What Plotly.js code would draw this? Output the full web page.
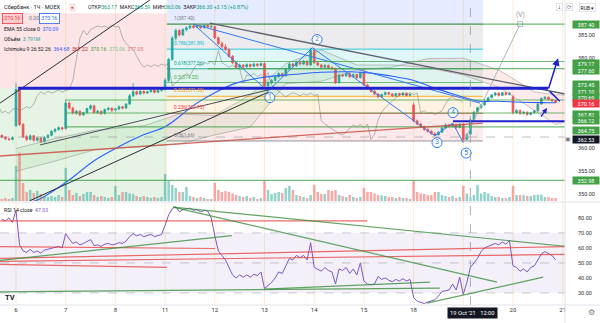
<!DOCTYPE html>
<html><head><meta charset="utf-8">
<script src="https://cdn.plot.ly/plotly-3.0.1.min.js"></script>
<style>html,body{margin:0;padding:0;background:#fff;}#chart{width:600px;height:323px;}</style>
</head><body><div id="chart"></div>
<script>
// ---------- DATA ----------
const dayIndex  = [0,14,28,42,56,70,84,98,112,126,140,154];
const dayLabels = ['6','7','8','11','12','13','14','15','18','19','20','21'];
const priceTicks = [350,355,360,380,385];
const rsiTicks = [30,40,50,60,70,80];

const openP = [362.9,362.5,362.1,362.0,
365.0,373.0,365.3,362.6,362.0,362.8,361.8,362.3,361.5,362.4,362.9,363.8,364.2,364.6,
364.4,370.0,368.9,367.8,368.2,367.4,367.9,368.8,369.4,367.9,368.2,367.7,368.6,368.9,
368.5,368.7,369.2,368.9,369.8,371.6,372.5,372.0,372.6,372.2,372.5,372.9,372.4,372.8,
373.0,375.0,379.6,384.3,386.0,385.0,386.2,386.6,387.0,386.7,387.0,386.6,387.2,386.8,
386.9,384.4,383.1,382.4,381.8,380.3,378.9,377.9,378.4,378.0,378.5,378.1,378.6,378.3,
378.7,373.8,374.5,375.0,375.8,376.5,376.0,377.5,378.6,378.2,379.0,378.6,379.2,378.4,
381.6,378.9,378.4,377.9,378.3,377.8,377.6,374.5,376.2,376.0,376.5,375.8,376.3,375.6,
376.7,374.0,373.2,372.6,372.0,371.4,371.9,372.3,372.0,371.6,372.1,371.8,372.2,371.7,
369.6,366.1,365.4,364.8,364.2,363.8,363.3,363.0,363.6,364.5,365.2,364.8,365.3,364.6,
365.4,362.0,363.17,366.3,368.0,369.0,369.6,370.4,371.2,371.8,372.2,371.7,372.3,371.9,
371.4,367.9,368.4,367.7,368.0,367.5,367.9,368.3,369.8,371.0,371.3,370.8,370.6];
const highP = [363.1,362.7,362.4,362.7,
374.4,373.4,365.6,363.0,363.1,363.0,362.6,362.5,362.7,363.2,364.0,364.5,364.9,364.8,
370.8,370.4,369.2,368.5,368.4,368.1,369.0,369.7,369.6,368.5,368.4,368.8,369.1,369.0,
368.9,369.5,369.4,370.0,372.0,374.4,372.8,372.9,372.8,372.7,373.2,373.0,373.0,373.3,
375.5,380.0,384.8,386.4,386.3,386.5,386.9,387.3,387.4,387.2,387.1,387.3,387.3,387.2,
387.0,384.7,383.6,383.0,382.1,380.6,379.3,378.7,378.6,378.8,378.7,378.9,378.8,378.9,
379.0,374.8,375.3,376.1,376.8,376.7,377.8,378.9,378.8,379.3,379.2,379.5,379.4,382.2,
381.9,379.0,378.6,378.6,378.5,378.1,377.8,376.5,376.5,376.8,376.7,376.6,376.5,376.9,
377.7,374.3,373.5,372.9,372.2,372.1,372.6,372.5,372.2,372.3,372.3,372.4,372.3,372.1,
370.2,366.4,365.7,365.1,364.5,364.1,363.6,363.9,364.7,365.5,365.4,365.6,365.5,365.6,
365.5,363.4,366.59,368.3,369.2,369.8,370.6,371.4,372.0,372.5,372.4,372.5,372.4,372.4,
371.8,368.7,368.6,368.3,368.2,368.1,368.5,370.0,371.3,371.6,371.5,371.0,370.8];
const lowP = [362.3,361.9,361.7,361.8,
364.8,364.9,362.3,361.6,361.8,361.5,361.5,361.2,361.4,362.2,362.7,363.5,363.9,364.0,
364.2,368.6,367.5,367.4,367.1,367.2,367.7,368.5,367.7,367.6,367.4,367.5,368.3,368.0,
368.1,368.4,368.6,368.7,369.6,371.3,371.7,371.8,371.9,372.0,372.3,372.1,372.2,372.5,
372.8,374.6,379.3,383.8,384.6,384.8,385.8,386.3,386.4,386.5,386.3,386.4,386.6,386.5,
384.1,382.8,382.1,381.5,380.0,378.6,377.5,377.6,377.7,377.8,377.8,377.9,378.0,378.1,
373.4,372.6,374.2,374.8,375.5,375.7,375.9,377.3,377.9,378.0,378.3,378.4,378.2,378.2,
378.6,378.1,377.6,377.7,377.5,377.3,374.2,374.3,375.7,375.8,375.5,375.6,375.3,375.4,
373.8,373.0,372.3,371.8,371.1,371.2,371.7,371.8,371.3,371.4,371.5,371.6,371.4,371.5,
365.8,365.1,364.5,363.9,363.5,363.0,362.8,362.9,363.4,364.3,364.5,364.6,364.4,364.5,
361.3,361.8,363.06,366.1,367.7,368.7,369.4,370.2,371.0,371.5,371.4,371.5,371.6,371.7,
367.5,367.6,367.4,367.5,367.2,367.3,367.7,368.1,369.6,370.8,370.6,370.3,370.0];
const closeP = [362.5,362.1,362.0,362.4,
373.0,365.3,362.6,362.0,362.8,361.8,362.3,361.5,362.4,362.9,363.8,364.2,364.6,364.3,
370.0,368.9,367.8,368.2,367.4,367.9,368.8,369.4,367.9,368.2,367.7,368.6,368.9,368.4,
368.7,369.2,368.9,369.8,371.6,372.5,372.0,372.6,372.2,372.5,372.9,372.4,372.8,373.0,
375.0,379.6,384.3,386.0,385.0,386.2,386.6,387.0,386.7,387.0,386.6,387.2,386.8,386.9,
384.4,383.1,382.4,381.8,380.3,378.9,377.9,378.4,378.0,378.5,378.1,378.6,378.3,378.7,
373.8,374.5,375.0,375.8,376.5,376.0,377.5,378.6,378.2,379.0,378.6,379.2,378.4,381.6,
378.9,378.4,377.9,378.3,377.8,377.6,374.5,376.2,376.0,376.5,375.8,376.3,375.6,376.7,
374.0,373.2,372.6,372.0,371.4,371.9,372.3,372.0,371.6,372.1,371.8,372.2,371.7,371.9,
366.1,365.4,364.8,364.2,363.8,363.3,363.0,363.6,364.5,365.2,364.8,365.3,364.6,365.4,
362.0,363.1,366.30,368.0,369.0,369.6,370.4,371.2,371.8,372.2,371.7,372.3,371.9,372.2,
367.9,368.4,367.7,368.0,367.5,367.9,368.3,369.8,371.0,371.3,370.8,370.6,370.16];
const volumeM = [2,3,2,3,
35,48,18,9,11,8,10,7,5,4,5,4,6,4,
33,11,6,8,5,7,9,9,6,4,5,4,3,4,
15,6,9,9,7.5,7,5,4,5,4,3,4,3,4,
27,20,16,13,9,9,14,5,4,3,4,3,2,2,
18,11,9,10,9,7.5,6,5,4,5,3,4,2,3,
20,11,7,8,9,8,13,15,11,6,5,4,3,6,
16,9,7,7,11,10,11,6,5,4,6,4,3,4,
13,9,9,7.5,5.7,5.7,5,4,4,3,4,3,3,2,
20,9,7.5,7,6,6,9,9,6,5,4,5,3,4,
15,7.5,3.791,6,16,7.5,9,7.5,5,4,4,3,3,4,
15,6,6,5.7,5,5,6,6.4,6.4,4,4,3,3];
const rsi = [79,78,80,77,
85,62,58,57,59,57,58,56.5,58.5,59,60,60.5,61,60,
69.5,66,63,64,62,63,64.5,65.5,61.5,62,61,62.5,63,62,
62.5,63.5,63,64.5,67.5,69.5,68,69,67.5,68.5,69,67.5,68.5,69,
75,82,86,87.5,84,85.5,86,86.5,85,85.5,84,85,84.5,80,
68,58,55,52,47,42,40,42,40.5,42,40.5,42.5,41.5,44,
33,35,37,40,44,43,48,53,52,55,53.5,55,52,63.5,
47,46,44.5,47,45,44,36,46,45,47,43,46,42,50,
38,36,35.5,36,41,39,40,38.5,37.5,39,38,39.5,38,39,
27,24.5,23.5,23,24,25,25.5,28,31,31.5,32,36,32,40.5,
29,37,47,50,53,57.5,60,61,62,63,62,64,62.5,65,
48,47,44.5,46,44,47,48,52,56,57.5,56,55,52];
// EMA 55 read at sample bars
const emaX = [3,7,14,22,28,35,42,46,50,56,62,70,78,86,94,100,106,112,118,124,130,136,142,148,152];
const emaY = [347.8,349.0,352.5,357.3,360.0,362.7,364.8,367.0,369.5,372.3,374.4,375.7,376.3,376.8,376.9,376.6,375.9,375.0,373.3,371.8,370.5,370.4,370.2,370.1,370.09];
// Ichimoku leading spans (read), bullish part / bearish part
const spanJ1 = [0,10,22,36,46,56,66,76,86,96,106,108];
const spanA1 = [360,362,364,365,367.6,367.3,371.8,378.7,381.7,378.4,378.4,378.3];
const spanB1 = [355,357,359.7,360.5,361,363,364.7,374.3,374.8,377.3,377.9,378.3];
const spanJ2 = [108,116,126,136,146,152,156,160];
const spanA2 = [378.3,377.8,376.2,373.5,368.4,365.3,366.2,367.0];
const spanB2 = [378.3,379.8,379.9,377.3,372.5,371.8,371.8,371.0];
const chikouLag = 26;
// Fibonacci retracement
const fibRange = [42.5,131.5];
const fibLevels = [361.66,367.75,371.50,374.53,377.56,381.89,387.40];
const fibRatios = ['0','0.236','0.382','0.5','0.618','0.786','1'];
// Elliott wave
const waveX = [50,71,83.5,118,123,126];
const waveY = [387.4,372.6,382.2,362.8,365.6,361.3];
const waveLblX = [71.5,84.8,118.6,123.1,126.8];
const waveLblY = [371.2,384.0,361.3,367.9,359.0];
const waveLbl = ['1','2','3','4','5'];
const vX = [126,142], vY = [361.3,387.4];
const channelX = [50,130.7], channelY = [387.4,370.0];
// drawn trend lines (bar index, price)
const blackA = {x:[-4.5,37.7], y:[370.0,392.7]};
const blackB = {x:[3.9,71.0], y:[348.5,372.4]};
const blackC = {x:[6.8,71.0], y:[360.8,372.9]};
const grayDown = {x:[54.6,154.65], y:[387.6,372.0]};
const redRise = {x:[-4.5,131.5], y:[358.35,365.6]};
const blueThick = {x:[0.6,149.9], y:373.3};
const blueLow = {x:[123.1,154.65], y:366.0};
const rayLevels = [387.40,379.17,377.60,370.69,367.82,364.75,352.98];
const rayStart  = [42.5,54,54,14,14,14,-4.5];
const shortTool = {x:[-4.5,42.5], entry:373.3, stop:389.8};
const rsiRedLines = [
  {x:[-4.5,98.9], y:[78.0,78.0]},
  {x:[-4.5,56.1], y:[60.9,59.6]},
  {x:[-4.5,154.65], y:[53.0,60.9]},
  {x:[-4.5,154.65], y:[51.0,55.7]},
  {x:[-4.5,42.5], y:[49.1,47.1]}];
const rsiGreenLines = [
  {x:[44.2,154.65], y:[87.2,61.1]},
  {x:[44.2,135.5], y:[87.2,37.2]},
  {x:[-4.5,60.8], y:[51.7,68.2]},
  {x:[-4.5,119.4], y:[30.7,33.3]},
  {x:[70.1,116.6], y:[32.6,37.2]},
  {x:[115.8,148.5], y:[23.2,40.5]}];
const axisLabelVals = ['387.40','379.17','377.60','373.45','371.10','370.69','370.16','367.82','366.12','364.75','362.53','352.98'];
const axisLabelKind = ['g','g','g','g','g','g','r','g','b','g','d','g'];
const crossBar = 128;
const crossLabel = "19 Oct '21   12:00";

// ---------- BUILD ----------
const W = 565, H = 305;
const XR = [-4.507, 154.65];
const idx = closeP.map((_, k) => k - 4);
const F = 'Roboto, Arial, sans-serif';
const up = '#26a69a', dn = '#ef5350';
const LF = 5.2; // legend font size

const traces = [];
traces.push({x: spanJ1, y: spanB1, type:'scatter', mode:'lines', line:{color:'rgba(120,130,120,0.55)', width:0.8}, xaxis:'x', yaxis:'y', hoverinfo:'skip'});
traces.push({x: spanJ1, y: spanA1, type:'scatter', mode:'lines', line:{color:'rgba(120,130,120,0.55)', width:0.8}, fill:'tonexty', fillcolor:'rgba(76,175,80,0.10)', xaxis:'x', yaxis:'y', hoverinfo:'skip'});
traces.push({x: spanJ2, y: spanB2, type:'scatter', mode:'lines', line:{color:'rgba(140,120,120,0.55)', width:0.8}, xaxis:'x', yaxis:'y', hoverinfo:'skip'});
traces.push({x: spanJ2, y: spanA2, type:'scatter', mode:'lines', line:{color:'rgba(140,120,120,0.55)', width:0.8}, fill:'tonexty', fillcolor:'rgba(242,54,69,0.10)', xaxis:'x', yaxis:'y', hoverinfo:'skip'});
traces.push({x: idx, y: volumeM, type:'bar', marker:{color: closeP.map((c,k)=> c>=openP[k] ? 'rgba(38,166,154,0.5)' : 'rgba(239,83,80,0.5)')}, width:0.7, xaxis:'x', yaxis:'y3', hoverinfo:'skip'});
traces.push({x: idx.map(v => v - chikouLag), y: closeP, type:'scatter', mode:'lines', line:{color:'rgba(110,110,110,0.6)', width:0.8}, xaxis:'x', yaxis:'y', hoverinfo:'skip'});
traces.push({x: emaX, y: emaY, type:'scatter', mode:'lines', line:{color:'#2962ff', width:1.1, shape:'spline'}, xaxis:'x', yaxis:'y', hoverinfo:'skip'});
traces.push({x: idx, open: openP, high: highP, low: lowP, close: closeP, type:'candlestick', xaxis:'x', yaxis:'y',
  increasing:{line:{color:up, width:0.8}, fillcolor:up}, decreasing:{line:{color:dn, width:0.8}, fillcolor:dn}, whiskerwidth:0, hoverinfo:'skip'});
traces.push({x: waveX, y: waveY, type:'scatter', mode:'lines', line:{color:'#3179f5', width:1}, xaxis:'x', yaxis:'y', hoverinfo:'skip'});
traces.push({x: channelX, y: channelY, type:'scatter', mode:'lines', line:{color:'#3179f5', width:1}, xaxis:'x', yaxis:'y', hoverinfo:'skip'});
traces.push({x: vX, y: vY, type:'scatter', mode:'lines+markers', line:{color:'#b2b5be', width:1}, marker:{symbol:'square', size:[0,5], color:'#fff', line:{color:'#9598a1', width:1}}, xaxis:'x', yaxis:'y', hoverinfo:'skip'});
traces.push({x: waveLblX, y: waveLblY, text: waveLbl, type:'scatter', mode:'markers+text', textposition:'middle center',
  marker:{symbol:'circle', size:10, color:'rgba(255,255,255,0.9)', line:{color:'#3179f5', width:1}},
  textfont:{family:F, size:6.5, color:'#3179f5'}, xaxis:'x', yaxis:'y', hoverinfo:'skip'});
traces.push({x: idx, y: rsi, type:'scatter', mode:'lines', line:{color:'#7e57c2', width:1}, xaxis:'x', yaxis:'y2', hoverinfo:'skip'});

const shapes = [];
const rect = (x0,x1,y0,y1,fill,yref) => ({type:'rect', xref:'x', yref:yref||'y', x0, x1, y0, y1, fillcolor:fill, line:{width:0}, layer:'below'});
const seg = (x0,y0,x1,y1,color,width,dash,yref,layer) => ({type:'line', xref:'x', yref:yref||'y', x0, y0, x1, y1, line:{color, width, dash:dash||'solid'}, layer:layer||'above'});
shapes.push(rect(shortTool.x[0], shortTool.x[1], shortTool.entry, shortTool.stop, 'rgba(242,54,69,0.13)'));
shapes.push(rect(shortTool.x[0], shortTool.x[1], 348.44, shortTool.entry, 'rgba(76,175,80,0.14)'));
const fibFill = ['rgba(242,54,69,0.11)','rgba(255,152,0,0.11)','rgba(76,175,80,0.12)','rgba(8,153,129,0.12)','rgba(0,188,212,0.12)','rgba(120,123,134,0.14)'];
const fibLine = ['#787b86','#f23645','#ff9800','#4caf50','#089981','#00bcd4','#787b86'];
for (let k = 0; k < fibLevels.length - 1; k++) shapes.push(rect(fibRange[0], fibRange[1], fibLevels[k], fibLevels[k+1], fibFill[k]));
shapes.push(rect(fibRange[0], fibRange[1], fibLevels[6], 392.71, 'rgba(41,98,255,0.12)'));
fibLevels.forEach((v,k) => shapes.push(seg(fibRange[0], v, fibRange[1], v, fibLine[k], 0.8, 'solid', 'y', 'below')));
dayIndex.forEach(d => shapes.push({type:'line', xref:'x', yref:'paper', x0:d, x1:d, y0:0, y1:1, line:{color:'rgba(255,167,38,0.22)', width:1}, layer:'below'}));
shapes.push(rect(XR[0], XR[1], 30, 70, 'rgba(126,87,194,0.09)', 'y2'));
[70,50,30].forEach(v => shapes.push(seg(XR[0], v, XR[1], v, 'rgba(120,123,134,0.55)', 0.7, 'dash', 'y2', 'below')));
rayLevels.forEach((v,k) => shapes.push(seg(rayStart[k], v, XR[1], v, 'rgba(67,160,71,0.75)', 1.2)));
shapes.push(seg(XR[0], 362.53, XR[1], 362.53, 'rgba(120,123,134,0.6)', 0.8, 'dash'));
shapes.push(seg(redRise.x[0], redRise.y[0], redRise.x[1], redRise.y[1], 'rgba(205,80,70,0.85)', 1.3));
shapes.push(seg(blackA.x[0], blackA.y[0], blackA.x[1], blackA.y[1], '#2a2e39', 1));
shapes.push(seg(blackB.x[0], blackB.y[0], blackB.x[1], blackB.y[1], '#2a2e39', 1));
shapes.push(seg(blackC.x[0], blackC.y[0], blackC.x[1], blackC.y[1], '#4a4e59', 1));
shapes.push(seg(grayDown.x[0], grayDown.y[0], grayDown.x[1], grayDown.y[1], '#5d606b', 1.3));
shapes.push(seg(blueThick.x[0], blueThick.y, blueThick.x[1], blueThick.y, '#2020cf', 3));
shapes.push(seg(blueLow.x[0], blueLow.y, blueLow.x[1], blueLow.y, '#2020cf', 2));
rsiRedLines.forEach(l => shapes.push(seg(l.x[0], l.y[0], l.x[1], l.y[1], 'rgba(229,57,53,0.75)', 1.2, 'solid', 'y2')));
rsiGreenLines.forEach(l => shapes.push(seg(l.x[0], l.y[0], l.x[1], l.y[1], 'rgba(56,142,60,0.8)', 1.2, 'solid', 'y2')));
shapes.push({type:'line', xref:'x', yref:'paper', x0:crossBar, x1:crossBar, y0:0, y1:1, line:{color:'#9598a1', width:0.8, dash:'dash'}, layer:'above'});
shapes.push({type:'line', xref:'paper', yref:'paper', x0:0, x1:1.07, y0:1-202/H, y1:1-202/H, line:{color:'#e0e3eb', width:1}});
shapes.push({type:'line', xref:'paper', yref:'paper', x0:1, x1:1, y0:-0.06, y1:1, line:{color:'#e0e3eb', width:1}});
shapes.push({type:'line', xref:'paper', yref:'paper', x0:0, x1:1.07, y0:0, y1:0, line:{color:'#e0e3eb', width:1}});

const ann = [];
const T = (px, py, text, o) => Object.assign({xref:'paper', yref:'paper', x:px/W, y:1-py/H, text, showarrow:false, xanchor:'left', yanchor:'middle', font:{family:F, size:LF, color:'#131722'}}, o||{});
const G = '#089981';
ann.push(T(2, 7, 'Сбербанк · 1Ч · MOEX', {font:{family:F, size:5.6, color:'#131722'}}));
ann.push(T(69, 7, '●', {font:{family:F, size:4.5, color:'#f23645'}, bgcolor:'rgba(242,54,69,0.15)', borderpad:1}));
ann.push(T(86, 7, 'ОТКР<span style="color:'+G+'">363.17</span>  МАКС<span style="color:'+G+'">366.59</span>  МИН<span style="color:'+G+'">363.06</span>  ЗАКР<span style="color:'+G+'">366.30 +3.15 (+0.87%)</span>'));
ann.push(T(2, 18, '370.16', {font:{family:F, size:LF, color:'#f23645'}, bgcolor:'rgba(242,54,69,0.12)', bordercolor:'#f23645', borderwidth:0.8, borderpad:1.5}));
ann.push(T(27, 18, '0.00', {font:{family:F, size:LF, color:'#787b86'}}));
ann.push(T(39, 18, '370.16', {font:{family:F, size:LF, color:'#2962ff'}, bgcolor:'#fff', bordercolor:'#2962ff', borderwidth:0.8, borderpad:1.5}));
ann.push(T(2, 29, 'EMA 55 close 0  <span style="color:#2962ff">370.09</span>'));
ann.push(T(2, 39, 'Объём  <span style="color:#26a69a">3.791M</span>'));
ann.push(T(2, 49, 'Ichimoku 9 26 52 26  <span style="color:#2962ff">364.68</span>  <span style="color:#b71c1c">367.22</span>  <span style="color:#43a047">370.16</span>  <span style="color:#81c784">375.06</span>  <span style="color:#e57373">377.05</span>'));
ann.push(T(2, 210, 'RSI 14 close  <span style="color:#7e57c2">47.03</span>'));
ann.push(T(3, 297, '<b>TV</b>', {font:{family:F, size:7.5, color:'#131722'}}));
fibLevels.forEach((v,k) => ann.push({xref:'paper', yref:'y', x:172/W, y:v, text: fibRatios[k]+'('+v.toFixed(2)+')', showarrow:false, xanchor:'left', yanchor:'bottom', font:{family:F, size:4.8, color:fibLine[k]}}));
ann.push({xref:'x', yref:'y', x:vX[1], y:vY[1], text:'(V)', showarrow:false, yanchor:'bottom', yshift:3, font:{family:F, size:6.5, color:'#9598a1'}});
ann.push({xref:'x', yref:'y', axref:'x', ayref:'y', x:152.7, y:379.9, ax:149.9, ay:372.9, showarrow:true, arrowhead:2, arrowsize:1, arrowwidth:1.5, arrowcolor:'#2020cf', text:''});
ann.push({xref:'x', yref:'y', axref:'x', ayref:'y', x:153.2, y:370.4, ax:149.9, ay:372.9, showarrow:true, arrowhead:0, arrowwidth:1.5, arrowcolor:'#2020cf', text:''});
ann.push({xref:'x', yref:'y', axref:'x', ayref:'y', x:149.6, y:368.9, ax:147.6, ay:366.7, showarrow:true, arrowhead:2, arrowsize:0.8, arrowwidth:1.3, arrowcolor:'#2020cf', text:''});
const boxCol = {g:'#43a047', r:'#f23645', b:'#43a047', d:'#131722'};
const boxPy = [24,63.5,70.5,84,91,97,103,115,121,130,139,180];
axisLabelVals.forEach((t,k) => ann.push(T(572, boxPy[k], t, {font:{family:F, size:5.5, color:'#fff'}, bgcolor:boxCol[axisLabelKind[k]], borderpad:0.5, width:25, align:'center'})));
ann.push(T(563, 139, '▣', {font:{family:F, size:5.5, color:'#787b86'}}));
ann.push({xref:'x', yref:'paper', x:crossBar+0.7, y:1-313/H, text:crossLabel, showarrow:false, xanchor:'center', yanchor:'middle', bgcolor:'#131722', borderpad:2, font:{family:F, size:5.8, color:'#fff'}});
ann.push(T(586, 313, '⚙', {font:{family:'DejaVu Sans', size:8, color:'#787b86'}}));
ann.push(T(556, 7, '↓', {font:{family:'DejaVu Sans', size:5.5, color:'#787b86'}, bgcolor:'#fff', bordercolor:'#d1d4dc', borderwidth:0.6, borderpad:0.5}));
ann.push(T(566, 7, '⟳', {font:{family:'DejaVu Sans', size:5.5, color:'#787b86'}, bgcolor:'#fff', bordercolor:'#d1d4dc', borderwidth:0.6, borderpad:0.5}));
ann.push(T(579, 7, 'RUB ▾', {font:{family:F, size:5, color:'#131722'}, bgcolor:'#fff', bordercolor:'#d1d4dc', borderwidth:0.6, borderpad:1}));

// tick labels: the crosshair day is covered by the time label
const tickIdx = dayIndex.filter((d,k) => dayLabels[k] !== '19');
const tickTxt = dayLabels.filter(l => l !== '19');

const layout = {
  width:600, height:323, margin:{l:0, r:35, t:0, b:18}, paper_bgcolor:'#fff', plot_bgcolor:'#fff', showlegend:false,
  xaxis:{range:XR, anchor:'y2', domain:[0,1], showgrid:false, zeroline:false, showline:false, ticks:'',
    tickvals:tickIdx, ticktext:tickTxt, tickfont:{family:F, size:6, color:'#333'}, rangeslider:{visible:false}, fixedrange:true},
  yaxis:{domain:[1-201/H, 1], range:[348.44, 392.71], side:'right', showgrid:false, zeroline:false, showline:false, ticks:'',
    tickvals:priceTicks, ticktext:priceTicks.map(v=>v.toFixed(2)), tickfont:{family:F, size:5.5, color:'#333'}, ticklabelstandoff:12},
  yaxis2:{domain:[0, 102/H], range:[22, 89.9], side:'right', showgrid:false, zeroline:false, showline:false, ticks:'',
    tickvals:rsiTicks, ticktext:rsiTicks.map(v=>v.toFixed(2)), tickfont:{family:F, size:5.5, color:'#333'}, ticklabelstandoff:12},
  yaxis3:{overlaying:'y', range:[0,200], visible:false},
  shapes, annotations: ann
};
Plotly.newPlot('chart', traces, layout, {staticPlot:true, displayModeBar:false});
</script></body></html>
